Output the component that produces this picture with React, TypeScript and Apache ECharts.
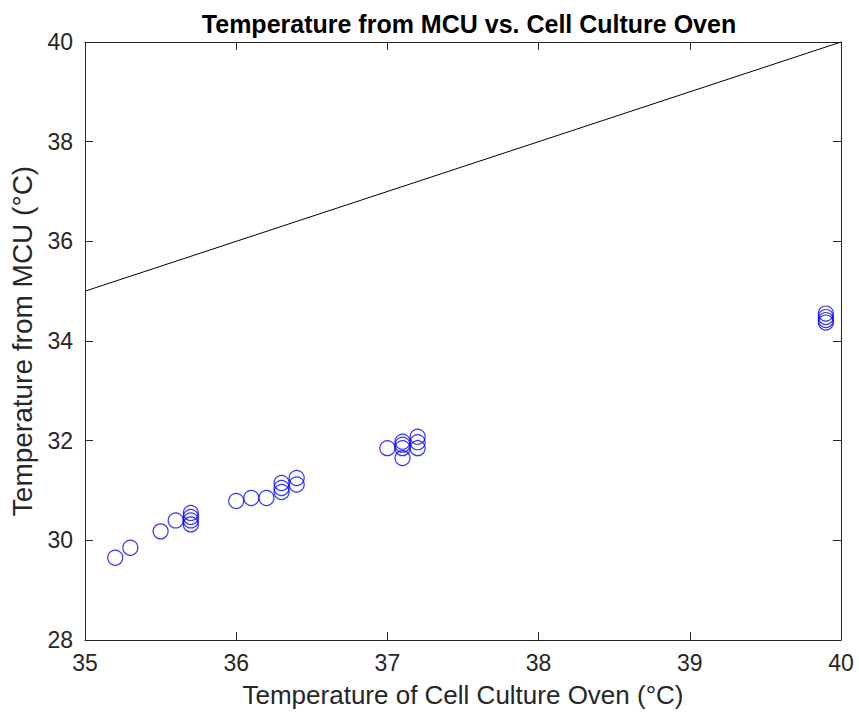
import React, { useEffect, useRef } from "react";
import * as echarts from "echarts";

const ovenTemps = [35.2, 35.3, 35.5, 35.6, 35.7, 35.7, 35.7, 35.7, 36.0, 36.1, 36.2, 36.3, 36.3, 36.3, 36.4, 36.4, 37.0, 37.1, 37.1, 37.1, 37.1, 37.2, 37.2, 37.2, 39.9, 39.9, 39.9, 39.9];
const mcuTemps = [29.65, 29.85, 30.18, 30.4, 30.55, 30.47, 30.4, 30.32, 30.79, 30.85, 30.85, 31.15, 31.05, 30.97, 31.25, 31.12, 31.85, 31.98, 31.92, 31.85, 31.65, 32.08, 31.97, 31.85, 34.55, 34.48, 34.42, 34.37];
const refLineX = [35, 40];
const refLineY = [35, 40];
const xTicks = { min: 35, max: 40, interval: 1 };
const yTicks = { min: 28, max: 40, interval: 2 };

const titleText = "Temperature from MCU vs. Cell Culture Oven";
const xName = "Temperature of Cell Culture Oven (°C)";
const yName = "Temperature from MCU (°C)";

export default function App() {
  const ref = useRef<HTMLDivElement>(null);
  useEffect(() => {
    document.body.style.margin = "0";
    const chart = echarts.init(ref.current!, null, { renderer: "svg" });
    const font = "'Liberation Sans', Arial, Helvetica, sans-serif";
    const axisColor = "#262626";
    const hiddenAxis = (type: "x" | "y") => ({
      type: "value",
      min: type === "x" ? xTicks.min : yTicks.min,
      max: type === "x" ? xTicks.max : yTicks.max,
      interval: type === "x" ? xTicks.interval : yTicks.interval,
      position: type === "x" ? "top" : "right",
      axisLine: { show: true, onZero: false, lineStyle: { color: axisColor, width: 1 } },
      axisTick: { show: true, inside: true, length: 8, lineStyle: { color: axisColor } },
      axisLabel: { show: false },
      splitLine: { show: false },
    });
    chart.setOption({
      animation: false,
      backgroundColor: "#ffffff",
      title: {
        text: titleText,
        left: 464,
        textAlign: "center",
        top: 6,
        textStyle: { fontFamily: font, fontSize: 25, fontWeight: "bold", color: "#000" },
      },
      grid: { left: 85, right: 18, top: 42, bottom: 76 },
      xAxis: [
        {
          type: "value",
          min: xTicks.min,
          max: xTicks.max,
          interval: xTicks.interval,
          name: xName,
          nameLocation: "middle",
          nameGap: 42,
          nameTextStyle: { fontFamily: font, fontSize: 26, color: axisColor },
          axisLine: { show: true, onZero: false, lineStyle: { color: axisColor, width: 1 } },
          axisTick: { show: true, inside: true, length: 8, lineStyle: { color: axisColor } },
          axisLabel: { fontFamily: font, fontSize: 23, color: axisColor, margin: 11 },
          splitLine: { show: false },
        },
        hiddenAxis("x"),
      ],
      yAxis: [
        {
          type: "value",
          min: yTicks.min,
          max: yTicks.max,
          interval: yTicks.interval,
          name: yName,
          nameLocation: "middle",
          nameGap: 41,
          nameTextStyle: { fontFamily: font, fontSize: 28, color: axisColor },
          axisLine: { show: true, onZero: false, lineStyle: { color: axisColor, width: 1 } },
          axisTick: { show: true, inside: true, length: 8, lineStyle: { color: axisColor } },
          axisLabel: { fontFamily: font, fontSize: 23, color: axisColor, margin: 12 },
          splitLine: { show: false },
        },
        hiddenAxis("y"),
      ],
      series: [
        {
          type: "line",
          data: refLineX.map((x, i) => [x, refLineY[i]]),
          symbol: "none",
          lineStyle: { color: "#000000", width: 1 },
          silent: true,
        },
        {
          type: "scatter",
          data: ovenTemps.map((x, i) => [x, mcuTemps[i]]),
          symbol: "circle",
          symbolSize: 15,
          itemStyle: { color: "transparent", borderColor: "#0000ff", borderWidth: 1.2 },
        },
      ],
    });
    return () => chart.dispose();
  }, []);
  return <div ref={ref} style={{ width: 859, height: 716 }} />;
}
